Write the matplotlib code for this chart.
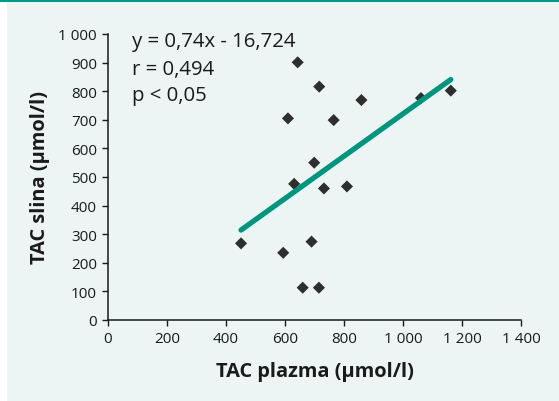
import numpy as np
import matplotlib
matplotlib.use('Agg')
import matplotlib.pyplot as plt
from matplotlib.patches import Rectangle

# TAC plazma vs TAC slina (µmol/l)
tac_plazma = [643, 716, 859, 610, 765, 1061, 1162, 699, 631, 732, 810, 451, 594, 690, 660, 715]
tac_slina = [901, 816, 769, 705, 699, 776, 802, 550, 476, 460, 467, 268, 235, 274, 113, 113]

stats_text = ['y = 0,74x - 16,724', 'r = 0,494', 'p < 0,05']

x_ticks = [0, 200, 400, 600, 800, 1000, 1200, 1400]
x_tick_labels = ['0', '200', '400', '600', '800', '1 000', '1 200', '1 400']
y_ticks = [0, 100, 200, 300, 400, 500, 600, 700, 800, 900, 1000]
y_tick_labels = ['0', '100', '200', '300', '400', '500', '600', '700', '800', '900', '1 000']

plt.rcParams['font.family'] = ['Open Sans', 'DejaVu Sans']
text_color = '#1a1a1a'
teal = '#00957f'

W, H = 559, 402
fig = plt.figure(figsize=(W / 100, H / 100), dpi=100, facecolor='white')

# panel background + teal stripe on top
fig.patches.append(Rectangle((7 / W, 0), 1 - 7 / W, 1 - 3 / H, transform=fig.transFigure,
                             facecolor='#ecf5f3', edgecolor='none', zorder=-2))
fig.patches.append(Rectangle((0, 1 - 3 / H), 1, 3 / H, transform=fig.transFigure,
                             facecolor='#009b86', edgecolor='none', zorder=-2))

ax = fig.add_axes([108 / W, (H - 321) / H, 413 / W, 286 / H])
ax.set_facecolor('none')
ax.set_zorder(2)

ax.scatter(tac_plazma, tac_slina, marker='D', s=38, color='#2e2e2e', edgecolors='none', zorder=3)

# linear trend line (least squares, like the spreadsheet trendline)
slope, intercept = np.polyfit(tac_plazma, tac_slina, 1)
xs = np.array([min(tac_plazma), max(tac_plazma)])
ax.plot(xs, slope * xs + intercept, color=teal, lw=3.8, solid_capstyle='round', zorder=4)

ax.set_xlim(0, 1400)
ax.set_ylim(0, 1000)
ax.set_xticks(x_ticks)
ax.set_xticklabels(x_tick_labels)
ax.set_yticks(y_ticks)
ax.set_yticklabels(y_tick_labels)
ax.tick_params(direction='out', length=4, width=1, colors=text_color, labelsize=11, pad=4)

for s in ['top', 'right']:
    ax.spines[s].set_visible(False)
for s in ['left', 'bottom']:
    ax.spines[s].set_linewidth(1.1)
    ax.spines[s].set_color(text_color)

ax.set_xlabel('TAC plazma (µmol/l)', fontsize=14.4, fontweight='bold', color=text_color, labelpad=11)
ax.set_ylabel('TAC slina (µmol/l)', fontsize=14.4, fontweight='bold', color=text_color, labelpad=6)

for i, t in enumerate(stats_text):
    fig.text(132 / W, 1 - (47.5 + 27 * i) / H, t, fontsize=14.7, color=text_color,
             ha='left', va='baseline', zorder=5)

fig.savefig('out.png', dpi=100, facecolor='white')
